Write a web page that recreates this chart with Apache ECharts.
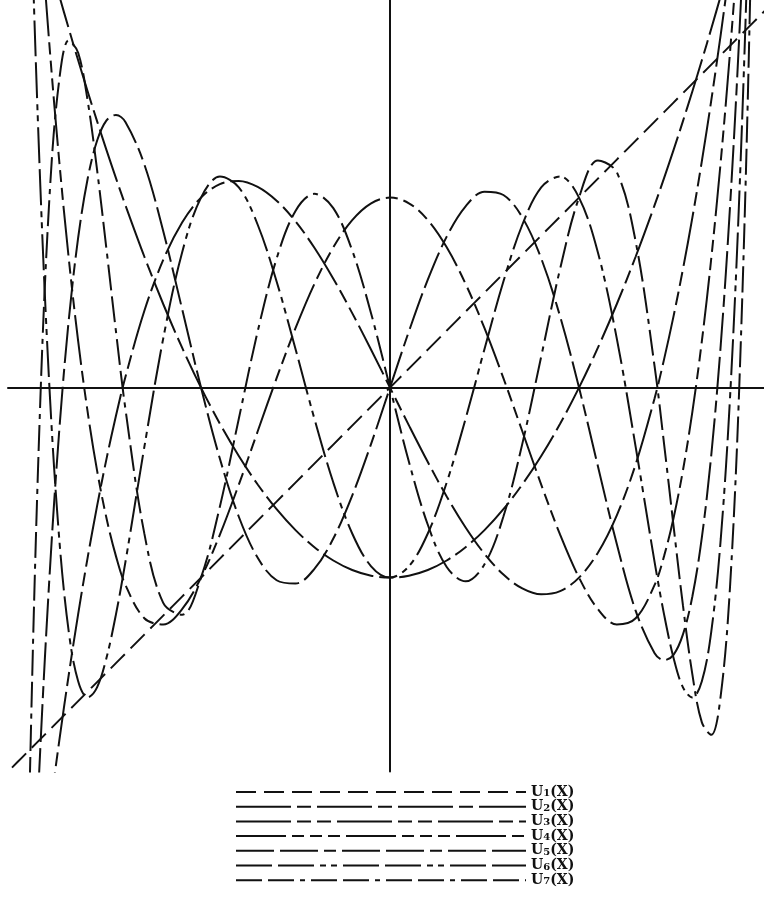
<!DOCTYPE html>
<html>
<head>
<meta charset="utf-8">
<title>Chebyshev polynomials of the second kind</title>
<script src="https://cdn.jsdelivr.net/npm/echarts@6/dist/echarts.min.js"></script>
<style>
  html, body { margin: 0; padding: 0; background: #ffffff; }
  #chart { width: 764px; height: 917px; }
</style>
</head>
<body>
<div id="chart"></div>
<script>
// Sample abscissae on [-1, 1]; finer spacing near the ends where the curves climb steeply
const xs = [-1, -0.975, -0.95, -0.925, -0.9, -0.875, -0.85, -0.825, -0.8, -0.775, -0.75, -0.725, -0.7,
  -0.65, -0.6, -0.55, -0.5, -0.45, -0.4, -0.35, -0.3, -0.25, -0.2, -0.15, -0.1, -0.05,
  0,
  0.05, 0.1, 0.15, 0.2, 0.25, 0.3, 0.35, 0.4, 0.45, 0.5, 0.55, 0.6, 0.65,
  0.7, 0.725, 0.75, 0.775, 0.8, 0.825, 0.85, 0.875, 0.9, 0.925, 0.95, 0.975, 1];

const u1 = [-2, -1.95, -1.9, -1.85, -1.8, -1.75, -1.7, -1.65, -1.6, -1.55, -1.5, -1.45, -1.4,
  -1.3, -1.2, -1.1, -1, -0.9, -0.8, -0.7, -0.6, -0.5, -0.4, -0.3, -0.2, -0.1,
  0,
  0.1, 0.2, 0.3, 0.4, 0.5, 0.6, 0.7, 0.8, 0.9, 1, 1.1, 1.2, 1.3,
  1.4, 1.45, 1.5, 1.55, 1.6, 1.65, 1.7, 1.75, 1.8, 1.85, 1.9, 1.95, 2];

const u2 = [3, 2.8025, 2.61, 2.4225, 2.24, 2.0625, 1.89, 1.7225, 1.56, 1.4025, 1.25, 1.1025, 0.96,
  0.69, 0.44, 0.21, 0, -0.19, -0.36, -0.51, -0.64, -0.75, -0.84, -0.91, -0.96, -0.99,
  -1,
  -0.99, -0.96, -0.91, -0.84, -0.75, -0.64, -0.51, -0.36, -0.19, 0, 0.21, 0.44, 0.69,
  0.96, 1.1025, 1.25, 1.4025, 1.56, 1.7225, 1.89, 2.0625, 2.24, 2.4225, 2.61, 2.8025, 3];

const u3 = [-4, -3.5149, -3.059, -2.6316, -2.232, -1.8594, -1.513, -1.1921, -0.896, -0.6239, -0.375, -0.1486, 0.056,
  0.403, 0.672, 0.869, 1, 1.071, 1.088, 1.057, 0.984, 0.875, 0.736, 0.573, 0.392, 0.199,
  0,
  -0.199, -0.392, -0.573, -0.736, -0.875, -0.984, -1.057, -1.088, -1.071, -1, -0.869, -0.672, -0.403,
  -0.056, 0.1486, 0.375, 0.6239, 0.896, 1.1921, 1.513, 1.8594, 2.232, 2.6316, 3.059, 3.5149, 4];

const u4 = [5, 4.0515, 3.2021, 2.446, 1.7776, 1.1914, 0.6821, 0.2445, -0.1264, -0.4355, -0.6875, -0.887, -1.0384,
  -1.2139, -1.2464, -1.1659, -1, -0.7739, -0.5104, -0.2299, 0.0496, 0.3125, 0.5456, 0.7381, 0.8816, 0.9701,
  1,
  0.9701, 0.8816, 0.7381, 0.5456, 0.3125, 0.0496, -0.2299, -0.5104, -0.7739, -1, -1.1659, -1.2464, -1.2139,
  -1.0384, -0.887, -0.6875, -0.4355, -0.1264, 0.2445, 0.6821, 1.1914, 1.7776, 2.446, 3.2021, 4.0515, 5];

const u5 = [-6, -4.3856, -3.025, -1.8935, -0.9677, -0.2256, 0.3534, 0.7887, 1.0982, 1.2989, 1.4063, 1.4348, 1.3978,
  1.1751, 0.8237, 0.4135, 0, -0.3745, -0.6797, -0.8961, -1.0138, -1.0313, -0.9542, -0.7944, -0.5683, -0.296,
  0,
  0.296, 0.5683, 0.7944, 0.9542, 1.0313, 1.0138, 0.8961, 0.6797, 0.3745, 0, -0.4135, -0.8237, -1.1751,
  -1.3978, -1.4348, -1.4063, -1.2989, -1.0982, -0.7887, -0.3534, 0.2256, 0.9677, 1.8935, 3.025, 4.3856, 6];

const u6 = [7, 4.5003, 2.5454, 1.0569, -0.0358, -0.7966, -1.2829, -1.5458, -1.6308, -1.5778, -1.4219, -1.1934, -0.9185,
  -0.3137, 0.258, 0.7111, 1, 1.1109, 1.0541, 0.8571, 0.5587, 0.2031, -0.1639, -0.4998, -0.7679, -0.9405,
  -1,
  -0.9405, -0.7679, -0.4998, -0.1639, 0.2031, 0.5587, 0.8571, 1.0541, 1.1109, 1, 0.7111, 0.258, -0.3137,
  -0.9185, -1.1934, -1.4219, -1.5778, -1.6308, -1.5458, -1.2829, -0.7966, -0.0358, 1.0569, 2.5454, 4.5003, 7];

const u7 = [-8, -4.3901, -1.8112, -0.0619, 1.0321, 1.6197, 1.8276, 1.762, 1.511, 1.1467, 0.7266, 0.2957, -0.1119,
  -0.7673, -1.1333, -1.1957, -1, -0.6254, -0.1636, 0.2961, 0.6786, 0.9297, 1.0198, 0.9444, 0.7219, 0.3901,
  0,
  -0.3901, -0.7219, -0.9444, -1.0198, -0.9297, -0.6786, -0.2961, 0.1636, 0.6254, 1, 1.1957, 1.1333, 0.7673,
  0.1119, -0.2957, -0.7266, -1.1467, -1.511, -1.762, -1.8276, -1.6197, -1.0321, 0.0619, 1.8112, 4.3901, 8];

// Legend labels, U with its order as subscript
const seriesNames = ['U1(X)', 'U2(X)', 'U3(X)', 'U4(X)', 'U5(X)', 'U6(X)', 'U7(X)'];
const seriesValues = [u1, u2, u3, u4, u5, u6, u7];

// Dash patterns that tell the curves apart in black and white
const dashes = [
  [20, 8],
  [55, 6, 14, 6],
  [55, 6, 14, 6, 14, 6],
  [50, 6, 12, 6, 12, 6, 12, 6],
  [38, 6, 38, 6, 12, 6],
  [36, 6, 36, 6, 6, 5, 6, 6],
  [26, 6, 26, 6, 5, 6]
];

const ink = '#111111';

const series = seriesNames.map(function (name, i) {
  return {
    name: name,
    type: 'line',
    data: xs.map(function (x, k) { return [x, seriesValues[i][k]]; }),
    showSymbol: false,
    symbol: 'none',
    smooth: 0.35,
    clip: true,
    lineStyle: { color: ink, width: 2, type: dashes[i] },
    itemStyle: { color: ink },
    emphasis: { disabled: true },
    z: 3
  };
});

const chart = echarts.init(document.getElementById('chart'), null, { renderer: 'canvas' });

chart.setOption({
  backgroundColor: '#ffffff',
  animation: false,
  grid: { left: 8, top: 0, width: 756, height: 771.4 },
  xAxis: {
    type: 'value',
    min: -1.0106,
    max: 0.9894,
    axisLine: { onZero: true, lineStyle: { color: ink, width: 2 } },
    axisTick: { show: false },
    axisLabel: { show: false },
    splitLine: { show: false }
  },
  yAxis: {
    type: 'value',
    min: -2.02,
    max: 2.04,
    axisLine: { show: true, onZero: true, lineStyle: { color: ink, width: 2 } },
    axisTick: { show: false },
    axisLabel: { show: false },
    splitLine: { show: false }
  },
  legend: {
    orient: 'vertical',
    left: 235,
    top: 785,
    padding: 0,
    itemWidth: 290,
    itemHeight: 12,
    itemGap: 0.7,
    selectedMode: false,
    // hide the marker dot drawn in the middle of each line sample
    itemStyle: { color: 'rgba(0,0,0,0)', borderColor: 'rgba(0,0,0,0)', borderWidth: 0 },
    formatter: function (name) {
      return name.replace(/^U(\d)/, 'U{s|$1}');
    },
    textStyle: {
      color: ink,
      fontFamily: 'DejaVu Serif',
      fontSize: 14,
      fontWeight: 'bold',
      lineHeight: 12,
      rich: {
        s: { fontFamily: 'DejaVu Serif', fontSize: 10, fontWeight: 'bold', lineHeight: 12, padding: [3, 0, 0, 0], color: ink }
      }
    },
    data: seriesNames
  },
  series: series
});
</script>
</body>
</html>
